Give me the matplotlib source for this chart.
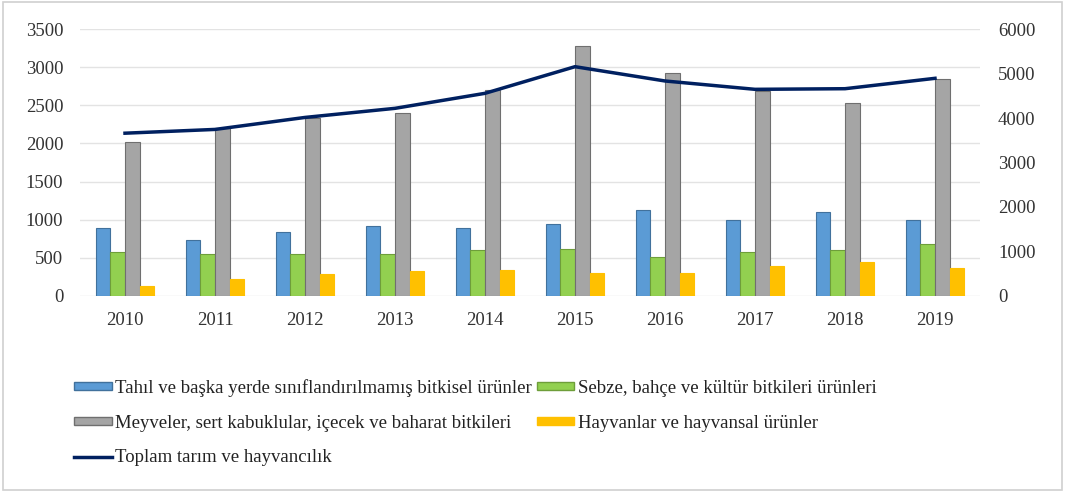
import matplotlib.pyplot as plt
import numpy as np
from matplotlib.lines import Line2D
from matplotlib.patches import Patch, Rectangle

years = ['2010', '2011', '2012', '2013', '2014', '2015', '2016', '2017', '2018', '2019']
tahil = [895, 736, 833, 920, 889, 938, 1126, 990, 1100, 990]
sebze = [572, 546, 550, 550, 600, 617, 506, 578, 596, 679]
meyve = [2025, 2207, 2339, 2396, 2703, 3282, 2922, 2693, 2530, 2843]
hayvan = [127, 215, 281, 324, 338, 302, 302, 394, 438, 368]
toplam = [3660, 3745, 4015, 4220, 4558, 5158, 4836, 4648, 4662, 4896]

labels = ['Tahıl ve başka yerde sınıflandırılmamış bitkisel ürünler',
          'Sebze, bahçe ve kültür bitkileri ürünleri',
          'Meyveler, sert kabuklular, içecek ve baharat bitkileri',
          'Hayvanlar ve hayvansal ürünler',
          'Toplam tarım ve hayvancılık']

plt.rcParams['font.family'] = ['Liberation Serif', 'DejaVu Serif']

fig = plt.figure(figsize=(10.65, 4.92), dpi=100)
fig.patches.append(Rectangle((0.003, 0.005), 0.994, 0.99, transform=fig.transFigure,
                             fill=False, edgecolor='#d0d0d0', linewidth=1.2))
ax = fig.add_axes([80 / 1065, 1 - 295.7 / 492, 900 / 1065, 266.4 / 492])
ax2 = ax.twinx()

x = np.arange(len(years))
w = 0.163
cols = [('#5B9BD5', '#41719C'), ('#92D050', '#6E9E3A'), ('#A5A5A5', '#6F6F6F'), ('#FFC000', '#FFC000')]
series = [tahil, sebze, meyve, hayvan]
for i, (vals, (fc, ec)) in enumerate(zip(series, cols)):
    ax.bar(x + (i - 1.5) * w, vals, width=w, color=fc, edgecolor=ec, linewidth=0.8, zorder=3)

ax2.plot(x, toplam, color='#002060', linewidth=2.5, zorder=4)

ax.set_xlim(-0.5, 9.5)
ax.set_ylim(0, 3500)
ax.set_yticks(range(0, 3501, 500))
ax2.set_ylim(0, 6000)
ax2.set_yticks(range(0, 6001, 1000))
ax.set_xticks(x)
ax.set_xticklabels(years)
ax.yaxis.grid(True, color='#e3e3e3', linewidth=1, zorder=0)
ax.set_axisbelow(True)
for a in (ax, ax2):
    for s in a.spines.values():
        s.set_visible(False)
    a.tick_params(length=0, labelsize=13.5, colors='#333333')
ax.tick_params(axis='y', pad=12)
ax.tick_params(axis='x', pad=12)
ax2.tick_params(axis='y', pad=13)
# keep line above bars
ax2.set_zorder(2)
ax.set_zorder(1)
ax2.patch.set_visible(False)

handles = [Patch(facecolor=cols[0][0], edgecolor=cols[0][1]),
           Patch(facecolor=cols[2][0], edgecolor=cols[2][1]),
           Line2D([], [], color='#002060', linewidth=2.5),
           Patch(facecolor=cols[1][0], edgecolor=cols[1][1]),
           Patch(facecolor=cols[3][0], edgecolor=cols[3][1])]
hl = [labels[0], labels[2], labels[4], labels[1], labels[3]]
fig.legend(handles, hl, ncol=2, loc='upper left', bbox_to_anchor=(74 / 1065, 1 - 379 / 492),
           frameon=False, fontsize=13.5, handlelength=2.0, handleheight=0.3,
           handletextpad=0.2, columnspacing=0.25, labelspacing=0.95, borderpad=0,
           borderaxespad=0, labelcolor='#222222')

fig.savefig('out.png', dpi=100)
